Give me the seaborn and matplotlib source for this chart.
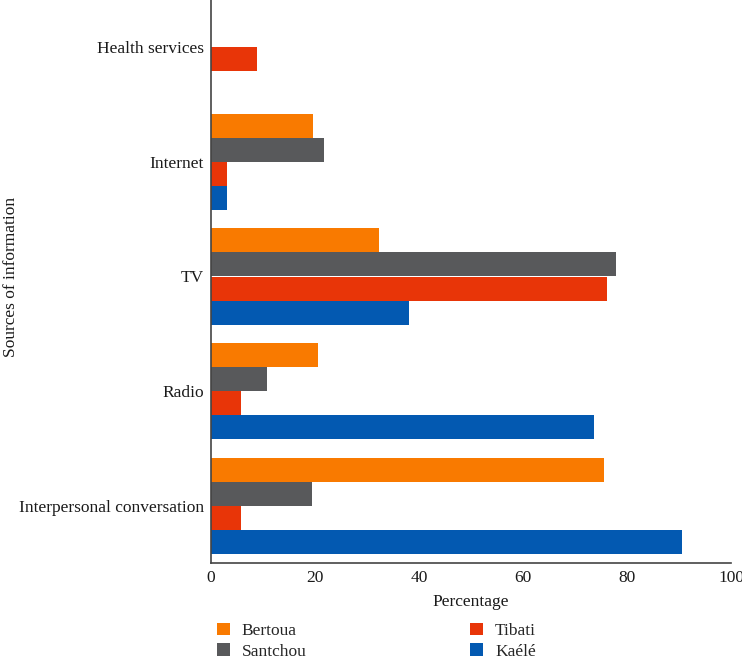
import matplotlib
matplotlib.use("Agg")
import matplotlib.pyplot as plt
import seaborn as sns
import pandas as pd

categories = ["Health services", "Internet", "TV", "Radio", "Interpersonal conversation"]
cities = ["Bertoua", "Santchou", "Tibati", "Kaélé"]
bertoua = [0, 19.6, 32.4, 20.5, 75.6]
santchou = [0, 21.8, 77.9, 10.8, 19.5]
tibati = [8.8, 3.0, 76.2, 5.8, 5.8]
kaele = [0, 3.0, 38.1, 73.6, 90.5]
colors = ["#F97A00", "#58595B", "#E83508", "#0359B1"]
xticks = [0, 20, 40, 60, 80, 100]

rows = []
for city, vals in zip(cities, [bertoua, santchou, tibati, kaele]):
    for cat, v in zip(categories, vals):
        rows.append({"Source": cat, "City": city, "Percentage": v})
df = pd.DataFrame(rows)

sns.set_theme(style="white")
plt.rcParams["font.family"] = ["Liberation Serif", "DejaVu Serif"]
FS = 12.5

fig = plt.figure(figsize=(7.42, 6.59), dpi=100)
ax = fig.add_axes([211 / 742, 96 / 659, 520 / 742, 573 / 659])
sns.barplot(data=df, y="Source", x="Percentage", hue="City", order=categories,
            hue_order=cities, palette=colors, orient="h", width=0.84,
            saturation=1, errorbar=None, ax=ax, legend=True, linewidth=0)
ax.set_xlim(0, 100)
ax.set_ylim(4.5, -0.5)
ax.set_xticks(xticks)
ax.tick_params(axis="both", length=0, labelsize=FS, colors="#1a1a1a", pad=5)
ax.set_xlabel("Percentage", fontsize=FS, color="#1a1a1a", labelpad=6)
ax.set_ylabel("Sources of information", fontsize=FS, color="#1a1a1a")
for s in ["top", "right"]:
    ax.spines[s].set_visible(False)
for s in ["left", "bottom"]:
    ax.spines[s].set_color("#444444")
    ax.spines[s].set_linewidth(1.2)
ax.yaxis.set_label_coords((19 - 211) / 520, 0.5)

handles, labels = ax.get_legend_handles_labels()
ax.get_legend().remove()
fig.legend(handles, labels, loc="upper left", bbox_to_anchor=(208 / 742, 1 - 614 / 659),
           ncol=2, frameon=False, fontsize=FS, handlelength=0.75, handleheight=0.75,
           columnspacing=9.4, labelspacing=0.25, handletextpad=0.7, borderpad=0)

fig.savefig("out.png", dpi=100)
